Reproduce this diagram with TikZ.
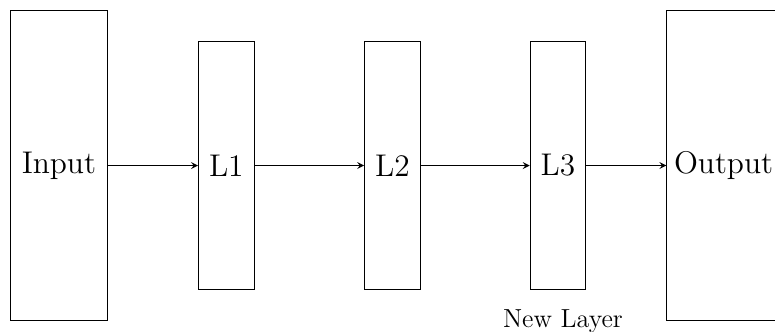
\documentclass[tikz,border=0pt]{standalone}
\usetikzlibrary{positioning}
\begin{document}
\begin{tikzpicture}[
    iobox/.style={draw, minimum width=1.55cm, minimum height=5cm, font=\Large},
    layerbox/.style={draw, minimum width=0.9cm, minimum height=4cm, font=\Large},
    >=stealth]
\useasboundingbox (-0.95,-2.67) rectangle (11.55,2.67);
\node[iobox] (in) at (0,0) {Input};
\node[layerbox] (l1) at (2.7,0) {L1};
\node[layerbox] (l2) at (5.38,0) {L2};
\node[layerbox] (l3) at (8.05,0) {L3};
\node[iobox] (out) at (10.72,0) {Output};
\node[below=0.2cm of l3, xshift=0.08cm, font=\large] (newl) {New Layer};
\draw[->] (in) -- (l1);
\draw[->] (l1) -- (l2);
\draw[->] (l2) -- (l3);
\draw[->] (l3) -- (out);
\end{tikzpicture}
\end{document}
